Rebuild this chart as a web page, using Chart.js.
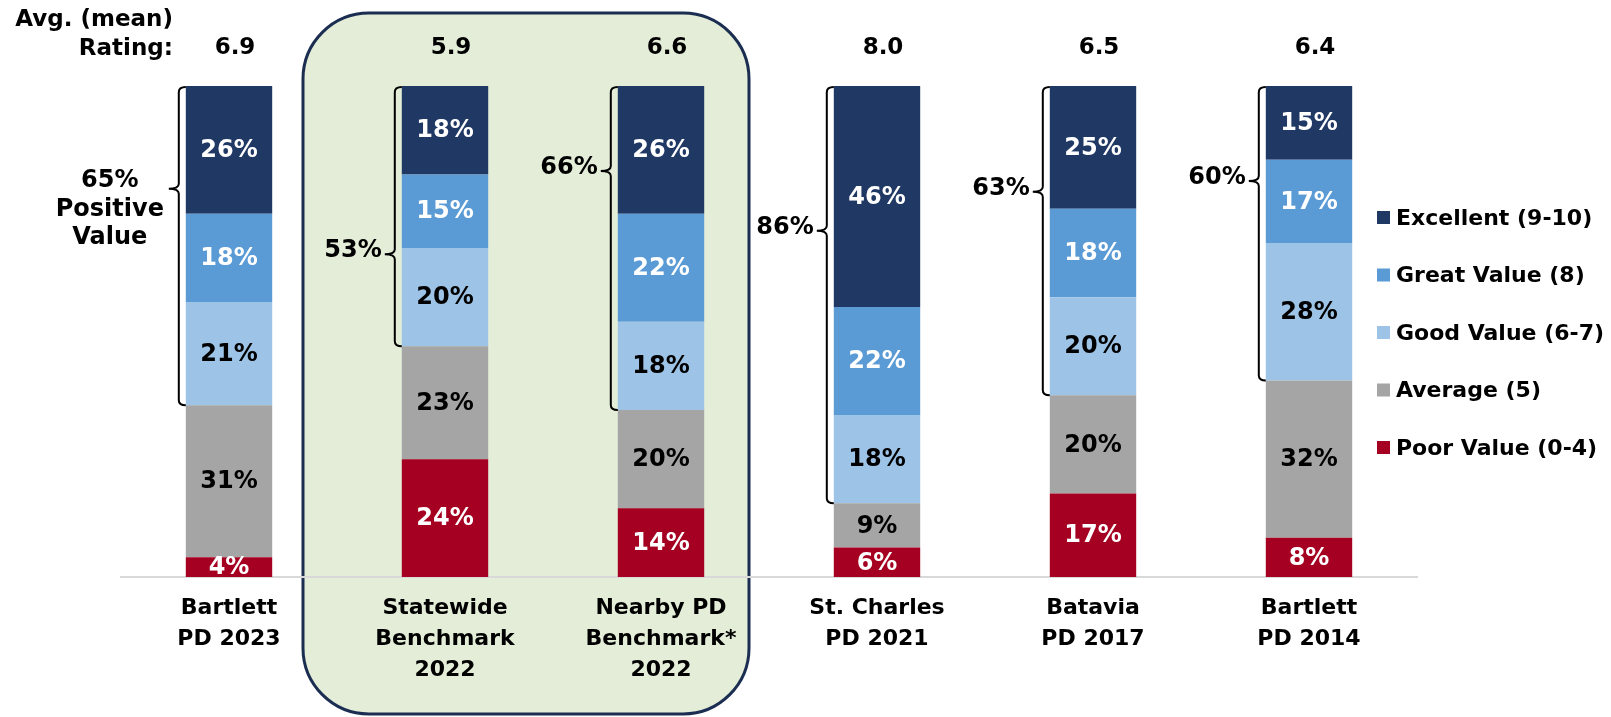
<!DOCTYPE html>
<html>
<head>
<meta charset="utf-8">
<script src="https://cdn.jsdelivr.net/npm/chart.js@4.4.0/dist/chart.umd.min.js"></script>
<style>
  body { margin: 0; background: #fff; }
</style>
</head>
<body>
<canvas id="valor" width="1611" height="717"></canvas>
<script>
// Datos
const categorias = [
    ['Bartlett', 'PD 2023'],
    ['Statewide', 'Benchmark', '2022'],
    ['Nearby PD', 'Benchmark*', '2022'],
    ['St. Charles', 'PD 2021'],
    ['Batavia', 'PD 2017'],
    ['Bartlett', 'PD 2014']
];
const excelente = [26, 18, 26, 46, 25, 15];
const granValor = [18, 15, 22, 22, 18, 17];
const buenValor = [21, 20, 18, 18, 20, 28];
const promedio = [31, 23, 20, 9, 20, 32];
const pobre = [4, 24, 14, 6, 17, 8];
const ratingPromedio = ['6.9', '5.9', '6.6', '8.0', '6.5', '6.4'];

const FUENTE = '"DejaVu Sans", Verdana, sans-serif';

// series de abajo hacia arriba
const series = [
    { label: 'Poor Value (0-4)', data: pobre, color: '#A50021', texto: '#fff' },
    { label: 'Average (5)', data: promedio, color: '#A5A5A5', texto: '#000' },
    { label: 'Good Value (6-7)', data: buenValor, color: '#9DC3E6', texto: '#000' },
    { label: 'Great Value (8)', data: granValor, color: '#5B9BD5', texto: '#fff' },
    { label: 'Excellent (9-10)', data: excelente, color: '#203864', texto: '#fff' }
];

// posicion del "diente" de cada llave (fraccion desde arriba)
const dienteLlave = [0.32, 0.645, 0.26, 0.345, 0.34, 0.32];

// Caja verde detras de los benchmarks
const cajaBenchmark = {
    id: 'cajaBenchmark',
    beforeDraw(chart) {
        const ctx = chart.ctx;
        const x = chart.scales.x;
        const izq = x.getPixelForValue(1) - 142;
        const der = x.getPixelForValue(2) + 88;
        ctx.save();
        ctx.beginPath();
        ctx.roundRect(izq, 13, der - izq, 701, 66);
        ctx.fillStyle = '#E3EDD7';
        ctx.fill();
        ctx.lineWidth = 3;
        ctx.strokeStyle = '#1B2E52';
        ctx.stroke();
        ctx.restore();
    }
};

// Etiquetas, llaves, rating y leyenda
const extras = {
    id: 'extras',
    afterDatasetsDraw(chart) {
        const ctx = chart.ctx;
        const area = chart.chartArea;
        ctx.save();
        ctx.textAlign = 'center';
        ctx.textBaseline = 'middle';
        ctx.font = 'bold 24px ' + FUENTE;

        // porcentajes dentro de las barras
        series.forEach((s, i) => {
            const meta = chart.getDatasetMeta(i);
            meta.data.forEach((bar, j) => {
                const y = Math.max(bar.y, area.top);
                ctx.fillStyle = s.texto;
                ctx.fillText(s.data[j] + '%', bar.x, (y + bar.base) / 2 + 1);
            });
        });

        // llaves de "positive value"
        const metaTop = chart.getDatasetMeta(4);
        const metaGood = chart.getDatasetMeta(2);
        metaTop.data.forEach((bar, j) => {
            const arriba = Math.max(bar.y, area.top) + 1;
            const abajo = metaGood.data[j].base;
            const izqBarra = bar.x - bar.width / 2;
            const x0 = izqBarra - 7;
            const yd = arriba + (abajo - arriba) * dienteLlave[j];
            ctx.beginPath();
            ctx.moveTo(izqBarra, arriba);
            ctx.quadraticCurveTo(x0, arriba, x0, arriba + 5);
            ctx.lineTo(x0, yd - 5);
            ctx.quadraticCurveTo(x0, yd, x0 - 10, yd);
            ctx.quadraticCurveTo(x0, yd, x0, yd + 5);
            ctx.lineTo(x0, abajo - 5);
            ctx.quadraticCurveTo(x0, abajo, izqBarra, abajo);
            ctx.lineWidth = 2;
            ctx.strokeStyle = '#000';
            ctx.stroke();

            const positivo = excelente[j] + granValor[j] + buenValor[j];
            ctx.fillStyle = '#000';
            if (j === 0) {
                ctx.textAlign = 'center';
                ctx.fillText(positivo + '%', x0 - 69, yd - 8);
                ctx.fillText('Positive', x0 - 69, yd + 21);
                ctx.fillText('Value', x0 - 69, yd + 49);
            } else {
                ctx.textAlign = 'right';
                ctx.fillText(positivo + '%', x0 - 13, yd - 3);
            }
        });

        // rating promedio
        ctx.font = 'bold 23px ' + FUENTE;
        ctx.textAlign = 'right';
        ctx.fillText('Avg. (mean)', 173, 20);
        ctx.fillText('Rating:', 173, 49);
        ctx.textAlign = 'center';
        metaTop.data.forEach((bar, j) => {
            ctx.fillText(ratingPromedio[j], bar.x + 6, 48);
        });

        // leyenda
        ctx.font = 'bold 22px ' + FUENTE;
        ctx.textAlign = 'left';
        for (let k = 0; k < series.length; k++) {
            const s = series[series.length - 1 - k];
            const y = 218 + k * 57.5;
            ctx.fillStyle = s.color;
            ctx.fillRect(1377, y - 7, 13, 13);
            ctx.fillStyle = '#000';
            ctx.fillText(s.label, 1396, y + 1);
        }
        ctx.restore();
    }
};

const config = {
    type: 'bar',
    data: {
        labels: categorias,
        datasets: series.map(s => ({
            label: s.label,
            data: s.data,
            backgroundColor: s.color,
            borderWidth: 0,
            categoryPercentage: 1,
            barPercentage: 0.4
        }))
    },
    options: {
        responsive: false,
        animation: false,
        layout: { padding: { left: 121, right: 194, top: 86, bottom: 0 } },
        plugins: {
            legend: { display: false },
            tooltip: { enabled: false }
        },
        scales: {
            x: {
                stacked: true,
                grid: { display: false, drawTicks: false },
                border: { display: true, color: '#D9D9D9', width: 2 },
                ticks: {
                    color: '#000',
                    padding: 16,
                    font: { family: FUENTE, size: 22, weight: 'bold', lineHeight: 1.4 }
                },
                afterFit(scale) { scale.height = 140; }
            },
            y: {
                stacked: true,
                display: false,
                min: 0,
                max: 100
            }
        }
    },
    plugins: [cajaBenchmark, extras]
};

const grafico = new Chart(document.getElementById('valor'), config);
</script>
</body>
</html>
